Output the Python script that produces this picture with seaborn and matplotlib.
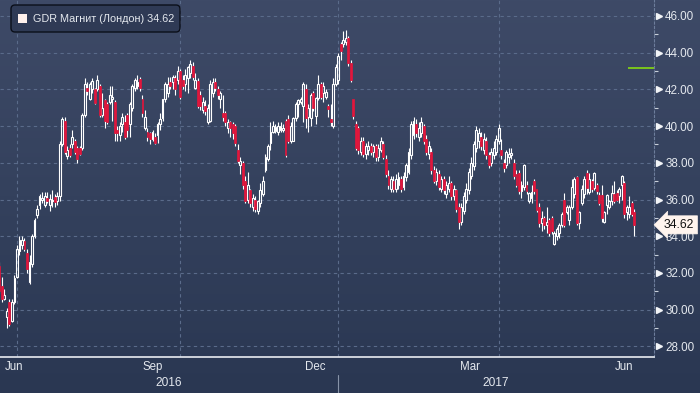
import numpy as np
import pandas as pd
import matplotlib
matplotlib.use("Agg")
import matplotlib.pyplot as plt
import matplotlib.transforms as mtransforms
from matplotlib.colors import LinearSegmentedColormap
from matplotlib.patches import FancyBboxPatch, Rectangle
from matplotlib.ticker import FormatStrFormatter
import seaborn as sns

# daily candles, GDR Magnit (London)

opens = [
    32.4, 31.3, 30.6, 29.6, 30.4, 29.4, 30.4, 31.8, 33.2, 33.5,
    33.75, 33.1, 31.5, 32.5, 34.0, 35.15, 35.7, 36.0, 35.7, 36.1,
    35.7, 35.9, 36.15, 35.9, 36.2, 39.0, 40.3, 38.35, 38.8, 39.0,
    39.2, 38.8, 38.8, 38.8, 40.6, 42.1, 41.5, 42.0, 42.0, 42.0,
    42.2, 40.6, 41.4, 41.2, 41.3, 41.5, 41.3, 39.8, 39.5, 40.1,
    40.2, 40.6, 40.1, 41.0, 42.1, 42.2, 42.55, 41.5, 39.9, 39.7,
    39.6, 39.3, 39.4, 39.5, 40.1, 40.45, 41.45, 41.8, 42.4, 42.4,
    42.6, 42.5, 43.0, 42.5, 42.3, 42.6, 42.9, 43.3, 42.1, 42.45,
    41.7, 40.9, 41.1, 40.2, 40.3, 41.8, 42.4, 42.0, 41.5, 40.7,
    40.7, 39.9, 40.2, 40.1, 40.0, 38.7, 37.9, 38.0, 37.0, 36.0,
    36.5, 35.6, 36.0, 35.4, 35.8, 36.3, 37.6, 38.2, 39.1, 39.7,
    39.75, 39.7, 39.8, 39.8, 40.3, 40.4, 39.2, 39.2, 40.45, 41.2,
    41.3, 41.1, 42.0, 40.5, 40.45, 41.8, 40.55, 41.55, 42.3, 41.8,
    41.6, 41.1, 40.4, 40.0, 42.3, 42.5, 44.5, 44.5, 44.6, 44.8,
    43.45, 41.45, 40.1, 39.9, 38.6, 39.2, 38.5, 38.7, 38.9, 38.6,
    38.9, 38.3, 38.7, 39.0, 38.2, 37.3, 36.6, 37.0, 36.6, 36.8,
    37.1, 36.7, 37.2, 37.5, 38.4, 39.5, 40.1, 39.4, 39.6, 40.0,
    39.3, 38.5, 38.6, 37.6, 37.0, 37.4, 36.6, 37.1, 36.3, 36.6,
    36.9, 36.2, 36.5, 35.6, 34.8, 35.4, 36.0, 36.5, 37.3, 37.8,
    38.8, 39.2, 39.4, 38.7, 39.2, 38.4, 38.0, 38.4, 38.6, 39.2,
    38.7, 38.0, 37.9, 38.3, 38.4, 38.0, 37.4, 37.45, 36.45, 36.7,
    36.8, 35.9, 36.1, 37.0, 36.55, 35.6, 34.7, 35.0, 34.6, 34.9,
    35.0, 33.6, 34.0, 34.2, 34.6, 35.95, 35.3, 34.9, 35.6, 36.3,
    37.2, 34.7, 35.8, 36.3, 37.45, 36.4, 37.0, 36.65, 36.8, 36.25,
    36.25, 34.8, 35.7, 35.6, 35.9, 36.3, 36.35, 36.2, 36.8, 36.9,
    35.3, 35.2, 35.8, 35.3,
]
closes = [
    31.0, 30.6, 30.8, 29.9, 29.2, 30.4, 31.7, 33.3, 33.8, 33.8,
    33.3, 32.2, 32.6, 34.0, 34.9, 35.5, 36.2, 36.1, 36.2, 35.9,
    36.05, 36.0, 35.85, 36.2, 39.0, 40.4, 38.6, 38.7, 38.4, 39.4,
    38.6, 38.2, 38.5, 40.6, 42.3, 41.9, 42.3, 42.45, 41.27, 42.5,
    40.6, 41.0, 40.3, 40.2, 41.7, 41.6, 39.6, 39.6, 40.0, 40.5,
    39.4, 39.8, 41.2, 42.2, 42.5, 42.4, 42.1, 40.7, 40.5, 39.4,
    39.3, 39.7, 39.1, 40.1, 40.4, 41.45, 42.3, 42.3, 42.2, 42.7,
    42.0, 43.0, 41.6, 42.2, 42.8, 43.2, 43.4, 42.7, 42.5, 41.1,
    41.1, 41.3, 40.8, 41.0, 42.3, 42.4, 42.1, 41.7, 41.8, 40.5,
    40.2, 40.25, 39.9, 39.6, 39.1, 38.1, 38.1, 36.8, 35.9, 36.8,
    35.8, 36.1, 35.5, 35.9, 36.5, 37.0, 38.3, 38.9, 39.7, 40.0,
    39.95, 40.0, 40.0, 39.9, 38.4, 39.2, 40.0, 40.45, 41.2, 41.4,
    41.5, 42.3, 40.45, 41.0, 41.7, 41.0, 41.55, 42.3, 41.6, 42.2,
    41.85, 40.95, 40.2, 42.3, 43.2, 43.8, 44.1, 44.7, 44.8, 43.45,
    42.5, 40.55, 38.8, 38.7, 39.2, 38.5, 38.9, 38.9, 38.6, 38.9,
    38.3, 38.8, 39.2, 38.3, 37.4, 36.8, 37.1, 36.6, 37.1, 37.2,
    36.6, 37.3, 37.9, 38.6, 40.1, 40.3, 39.6, 39.9, 40.2, 39.2,
    38.6, 38.9, 37.6, 37.0, 37.5, 36.7, 37.1, 36.5, 36.8, 36.9,
    36.2, 36.6, 35.5, 34.8, 35.6, 36.2, 36.6, 37.5, 38.0, 39.0,
    39.8, 39.6, 38.9, 39.3, 38.4, 37.9, 38.6, 38.8, 39.3, 39.9,
    38.4, 37.7, 38.6, 38.5, 38.55, 37.3, 36.8, 36.45, 36.8, 37.9,
    36.45, 36.35, 36.4, 36.45, 35.45, 34.7, 35.0, 34.6, 34.8, 34.2,
    34.3, 34.2, 34.4, 34.6, 35.2, 34.6, 35.6, 35.6, 36.7, 37.1,
    34.7, 35.3, 36.55, 37.1, 36.65, 37.1, 36.55, 37.45, 36.45, 35.8,
    35.0, 35.3, 36.25, 35.9, 36.35, 35.9, 36.0, 36.6, 37.3, 35.2,
    35.6, 35.6, 35.2, 34.62,
]
highs = [
    32.6, 31.8, 31.1, 30.1, 30.6, 30.6, 31.9, 33.5, 34.0, 34.0,
    33.9, 33.3, 33.0, 34.1, 35.0, 35.7, 36.3, 36.4, 36.4, 36.4,
    36.3, 36.5, 36.3, 36.4, 39.2, 40.5, 40.5, 38.9, 39.0, 39.8,
    39.3, 38.9, 38.9, 40.7, 42.6, 42.4, 42.4, 42.6, 42.1, 42.8,
    42.3, 41.8, 41.5, 41.3, 42.2, 42.2, 41.4, 40.0, 40.2, 40.7,
    40.6, 40.7, 41.3, 42.3, 42.6, 42.8, 42.7, 41.7, 40.9, 39.9,
    39.7, 39.8, 39.6, 40.2, 40.7, 41.5, 42.4, 42.7, 42.7, 42.8,
    42.8, 43.3, 43.1, 42.8, 43.1, 43.3, 43.6, 43.5, 42.9, 42.6,
    41.9, 41.6, 41.4, 41.2, 42.5, 42.6, 42.6, 42.2, 41.9, 41.7,
    40.8, 40.4, 40.3, 40.2, 40.1, 39.0, 38.3, 38.1, 37.3, 37.5,
    36.6, 36.3, 36.2, 36.0, 36.9, 37.3, 38.5, 39.0, 40.2, 40.3,
    40.1, 40.2, 40.2, 40.1, 40.4, 40.6, 40.2, 40.5, 41.3, 41.5,
    41.6, 42.4, 42.3, 41.2, 41.8, 41.9, 41.6, 42.8, 42.4, 42.4,
    42.0, 41.2, 41.2, 42.6, 43.4, 44.0, 44.6, 45.2, 45.25, 44.9,
    43.6, 41.5, 40.3, 40.0, 39.4, 39.4, 39.1, 39.2, 39.1, 39.0,
    39.0, 39.0, 39.4, 39.2, 38.4, 37.6, 37.3, 37.3, 37.4, 37.5,
    37.3, 37.5, 38.0, 38.8, 40.3, 40.5, 40.4, 40.2, 40.5, 40.1,
    39.5, 39.2, 38.8, 37.8, 37.7, 37.6, 37.3, 37.3, 37.0, 37.3,
    37.0, 36.8, 36.6, 35.8, 35.8, 36.4, 36.9, 37.7, 38.3, 39.2,
    40.0, 39.9, 39.7, 39.6, 39.4, 38.6, 38.8, 39.2, 39.5, 40.1,
    39.3, 38.2, 38.7, 38.8, 38.8, 38.2, 37.6, 37.6, 37.0, 37.95,
    37.0, 36.4, 36.8, 37.1, 36.6, 35.8, 35.4, 35.1, 35.6, 35.0,
    35.1, 34.3, 34.5, 34.7, 35.3, 36.35, 35.7, 35.7, 37.1, 37.2,
    37.3, 35.4, 36.8, 37.3, 37.6, 37.45, 37.1, 37.5, 36.9, 36.4,
    36.8, 35.4, 36.3, 36.0, 36.8, 37.0, 36.5, 36.7, 37.35, 37.0,
    35.7, 36.2, 35.9, 35.5,
]
lows = [
    30.9, 30.4, 30.5, 29.0, 29.1, 29.3, 30.3, 31.7, 33.0, 33.3,
    33.2, 32.0, 31.4, 32.3, 33.9, 35.0, 35.5, 35.8, 35.6, 35.8,
    35.4, 35.6, 35.6, 35.7, 35.9, 38.9, 38.5, 38.2, 38.3, 38.8,
    38.5, 38.0, 38.4, 38.7, 40.5, 41.7, 41.4, 41.8, 41.2, 41.9,
    40.5, 40.5, 39.9, 40.1, 41.2, 40.3, 39.2, 39.2, 39.2, 39.7,
    39.3, 39.4, 39.4, 40.8, 41.9, 42.0, 41.9, 40.5, 39.8, 39.2,
    39.0, 39.2, 39.0, 39.1, 39.8, 40.3, 41.3, 41.6, 42.0, 42.0,
    41.7, 42.3, 41.5, 42.0, 41.9, 41.8, 42.6, 42.5, 42.0, 41.0,
    40.9, 40.7, 40.6, 40.1, 40.2, 41.6, 41.9, 41.5, 41.0, 40.3,
    40.0, 39.6, 39.4, 39.3, 38.9, 38.0, 37.4, 36.6, 35.8, 35.8,
    35.6, 35.4, 35.3, 35.2, 35.6, 36.2, 37.5, 38.1, 38.7, 39.6,
    39.6, 39.5, 39.7, 39.7, 38.3, 39.1, 39.1, 39.2, 40.3, 40.5,
    41.2, 40.2, 39.9, 39.7, 40.0, 40.8, 40.1, 41.4, 41.5, 41.3,
    41.5, 40.5, 40.0, 39.9, 42.2, 42.3, 43.6, 44.3, 44.4, 43.3,
    42.4, 40.4, 38.7, 38.5, 38.4, 38.3, 38.2, 38.4, 38.4, 38.3,
    38.1, 38.1, 38.6, 38.2, 37.2, 36.6, 36.4, 36.4, 36.4, 36.6,
    36.4, 36.5, 37.0, 37.4, 38.2, 39.3, 39.4, 39.2, 39.4, 39.0,
    38.4, 38.2, 37.4, 36.9, 36.8, 36.5, 36.4, 36.3, 36.1, 36.4,
    36.0, 36.0, 35.3, 34.4, 34.6, 35.2, 35.8, 36.3, 37.1, 37.6,
    38.6, 38.8, 38.7, 38.5, 38.2, 37.7, 37.8, 38.2, 38.4, 39.0,
    38.2, 37.5, 37.7, 38.0, 38.2, 37.1, 36.7, 36.3, 36.1, 36.5,
    36.3, 35.8, 35.8, 36.3, 35.3, 34.5, 34.3, 34.4, 34.2, 34.0,
    34.1, 33.5, 33.8, 33.9, 34.5, 34.5, 35.2, 34.6, 35.5, 36.1,
    34.6, 34.4, 35.7, 36.1, 36.3, 36.3, 36.4, 36.5, 36.3, 35.7,
    34.8, 34.7, 35.2, 35.5, 35.7, 35.8, 35.9, 35.8, 36.0, 35.0,
    34.9, 35.0, 35.1, 34.0,
]

# London exchange holidays inside the window
uk_holidays = ["2016-08-29", "2016-12-26", "2016-12-27", "2017-01-02",
               "2017-04-14", "2017-04-17", "2017-05-01", "2017-05-29"]

ticker_label = "GDR Магнит (Лондон)"
green_level = 43.17
labelled_months = {3: "Mar", 6: "Jun", 9: "Sep", 12: "Dec"}
grid_months = [1, 4, 7, 10]

# style

sns.set_theme(style="dark", rc={"axes.facecolor": "none", "figure.facecolor": "#2c3955"})
plt.rcParams["font.family"] = ["Liberation Sans", "DejaVu Sans"]

text_col = "#e4e8ee"
tick_col = "#c9d0da"
red = "#e2163c"

# frame

dates = pd.bdate_range("2016-06-22", "2017-06-22")
dates = dates[~dates.isin(pd.to_datetime(uk_holidays))]
assert len(dates) == len(opens) == len(closes) == len(highs) == len(lows)

df = pd.DataFrame({"date": dates, "open": opens, "high": highs, "low": lows, "close": closes})
df["idx"] = np.arange(len(df))
df["up"] = df["close"] >= df["open"]
df["body_lo"] = df[["open", "close"]].min(axis=1)
df["body_hi"] = df[["open", "close"]].max(axis=1)

xmin, xmax = 0.24, 260.8

fig = plt.figure(figsize=(7, 3.93), dpi=100)

# gradient background
bg = fig.add_axes([0, 0, 1, 1], zorder=-10)
bg.imshow(np.linspace(0, 1, 256).reshape(-1, 1), aspect="auto", extent=[0, 1, 0, 1],
          cmap=LinearSegmentedColormap.from_list("bg", ["#3e4a67", "#34415d", "#2a3752"]))
bg.set_axis_off()

ax = fig.add_axes([0, 0.0916, 0.9343, 0.9084])
ax.set_facecolor("none")

# candles

up = df[df["up"]]
dn = df[~df["up"]]
ax.vlines(df["idx"], df["body_hi"], df["high"], color="white", lw=0.8, zorder=3)
ax.vlines(df["idx"], df["low"], df["body_lo"], color="white", lw=0.8, zorder=3)
ax.bar(up["idx"], up["close"] - up["open"], bottom=up["open"], width=0.75,
       facecolor="none", edgecolor="white", linewidth=0.8, zorder=4)
ax.bar(dn["idx"], dn["open"] - dn["close"], bottom=dn["close"], width=0.75,
       color=red, edgecolor=red, linewidth=0.5, zorder=4)

ax.hlines(green_level, df["idx"].iloc[-1] - 2.6, xmax, color="#7ac51c", lw=1.4, zorder=5)

ax.set_xlim(xmin, xmax)
ax.set_ylim(27.42, 46.87)

# y axis on the right

yt = np.arange(28, 47, 2)
ax.set_yticks(yt)
ax.set_yticks(np.arange(29, 46, 2), minor=True)
ax.yaxis.set_major_formatter(FormatStrFormatter("%.2f"))
ax.yaxis.tick_right()
ax.tick_params(axis="y", which="major", length=0, pad=8, labelsize=8.4, labelcolor=text_col)
ax.tick_params(axis="y", which="minor", length=3, width=0.8, color=tick_col, direction="out")
ax.grid(axis="y", color="#5a6b8a", ls=(0, (3, 3)), lw=0.8)

trans = mtransforms.blended_transform_factory(ax.transAxes, ax.transData)
ax.plot(np.ones(len(yt)), yt, ls="none", marker=">", ms=4.5, color="#f2f4f7",
        transform=mtransforms.offset_copy(trans, fig=fig, x=5, units="dots"), clip_on=False)

last = closes[-1]
ax.text(1.0, last, f"{last:.2f}", transform=mtransforms.offset_copy(trans, fig=fig, x=10, units="dots"),
        ha="left", va="center", fontsize=8.8, color="#111111", zorder=10, clip_on=False,
        bbox=dict(boxstyle="larrow,pad=0.25", fc="#fff4ee", ec="#fff4ee", lw=0.5))

# x axis: month ticks, quarter grid, labels

month_start = df.groupby(df["date"].dt.to_period("M"))["idx"].min()
starts = month_start.values
ax.set_xticks(starts[1:])
ax.set_xticklabels([])
ax.tick_params(axis="x", length=5, width=0.8, color=tick_col, direction="out")

for per, s in month_start.items():
    if per.month in grid_months and s > 0:
        ax.axvline(s, color="#5a6b8a", ls=(0, (3, 3)), lw=0.8, zorder=1)

xtrans = mtransforms.blended_transform_factory(ax.transData, ax.transAxes)
periods = list(month_start.index)
for k, per in enumerate(periods):
    if per.month not in labelled_months:
        continue
    n_days = len(pd.bdate_range(per.start_time, per.end_time))
    first_day = starts[k] if k > 0 else starts[1] - n_days
    centre = max(first_day + n_days / 2, 6.0)
    ax.text(centre, -0.028, labelled_months[per.month], transform=xtrans,
            ha="center", va="center", fontsize=8.3, color=text_col, clip_on=False)

jan = [s for per, s in month_start.items() if per.month == 1][0]
ax.plot([jan, jan], [-0.05, -0.11], transform=xtrans, color="#8793a8", lw=0.8, clip_on=False)
ax.text((xmin + jan) / 2, -0.073, "2016", transform=xtrans, ha="center", va="center",
        fontsize=8.6, color=text_col, clip_on=False)
ax.text((jan + xmax) / 2, -0.073, "2017", transform=xtrans, ha="center", va="center",
        fontsize=8.6, color=text_col, clip_on=False)

for s in ["left", "top"]:
    ax.spines[s].set_visible(False)
ax.spines["bottom"].set_color("#e9ecf1")
ax.spines["bottom"].set_linewidth(1.2)
ax.spines["right"].set_color("#6d7d9b")
ax.spines["right"].set_linestyle((0, (2, 2)))
ax.spines["right"].set_linewidth(0.8)

# legend box in the top-left corner (pixel coordinates)

px = mtransforms.IdentityTransform()
H = fig.get_figheight() * fig.dpi
fig.add_artist(FancyBboxPatch((11, H - 32), 169, 27, boxstyle="round,pad=0,rounding_size=4",
                              fc="#2f3a55", ec="#0b0f1a", lw=1, transform=px))
fig.add_artist(Rectangle((18, H - 23), 9, 9, fc="#fff1ec", ec="none", transform=px))
fig.text(33, H - 19, f"{ticker_label} {last:.2f}", transform=px, ha="left", va="center",
         fontsize=7.8, color=text_col)

fig.savefig("out.png", dpi=100)
